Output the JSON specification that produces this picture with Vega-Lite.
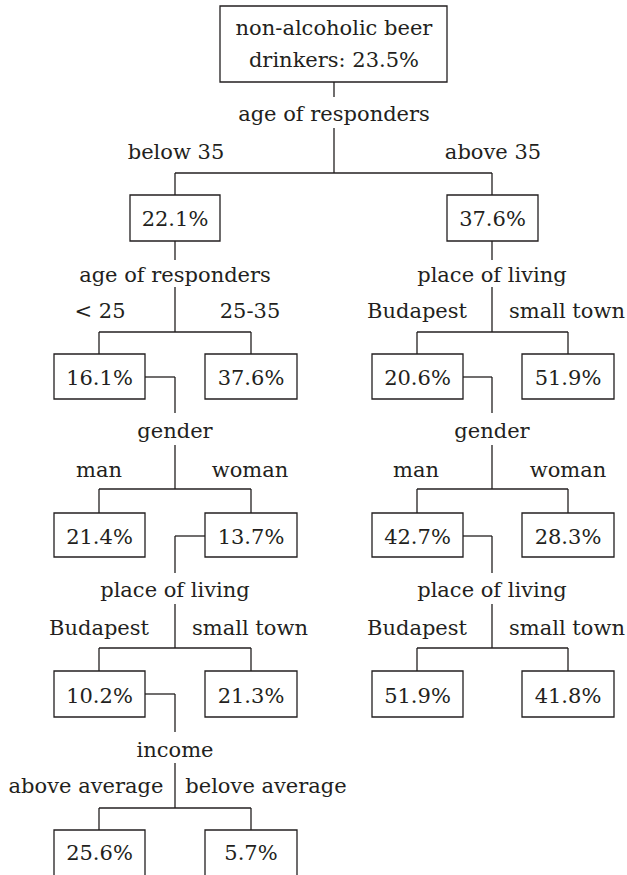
{
  "$schema": "https://vega.github.io/schema/vega-lite/v6.json",
  "width": 627,
  "height": 875,
  "autosize": "none",
  "padding": 0,
  "background": "white",
  "config": {"view": {"stroke": null}},
  "datasets": {
    "boxes": [
      {"id": "root", "x1": 220, "x2": 447, "y1": 6, "y2": 82},
      {"id": "b35", "x1": 130, "x2": 220, "y1": 195, "y2": 241},
      {"id": "a35", "x1": 447, "x2": 538, "y1": 195, "y2": 241},
      {"id": "lt25", "x1": 54, "x2": 145, "y1": 354, "y2": 399},
      {"id": "2535", "x1": 205, "x2": 297, "y1": 354, "y2": 399},
      {"id": "bp", "x1": 372, "x2": 463, "y1": 354, "y2": 399},
      {"id": "st", "x1": 522, "x2": 614, "y1": 354, "y2": 399},
      {"id": "m1", "x1": 54, "x2": 145, "y1": 513, "y2": 557},
      {"id": "w1", "x1": 205, "x2": 297, "y1": 513, "y2": 557},
      {"id": "m2", "x1": 372, "x2": 463, "y1": 513, "y2": 557},
      {"id": "w2", "x1": 522, "x2": 614, "y1": 513, "y2": 557},
      {"id": "bp1", "x1": 54, "x2": 145, "y1": 671, "y2": 717},
      {"id": "st1", "x1": 205, "x2": 297, "y1": 671, "y2": 717},
      {"id": "bp2", "x1": 372, "x2": 463, "y1": 671, "y2": 717},
      {"id": "st2", "x1": 522, "x2": 614, "y1": 671, "y2": 717},
      {"id": "aa", "x1": 54, "x2": 145, "y1": 830, "y2": 885},
      {"id": "ba", "x1": 205, "x2": 297, "y1": 830, "y2": 885}
    ],
    "segments": [
      {"x1": 334, "y1": 82, "x2": 334, "y2": 97},
      {"x1": 334, "y1": 128, "x2": 334, "y2": 173},
      {"x1": 175, "y1": 173, "x2": 492, "y2": 173},
      {"x1": 175, "y1": 173, "x2": 175, "y2": 195},
      {"x1": 492, "y1": 173, "x2": 492, "y2": 195},
      {"x1": 175, "y1": 241, "x2": 175, "y2": 260},
      {"x1": 175, "y1": 287, "x2": 175, "y2": 332},
      {"x1": 99, "y1": 332, "x2": 251, "y2": 332},
      {"x1": 99, "y1": 332, "x2": 99, "y2": 354},
      {"x1": 251, "y1": 332, "x2": 251, "y2": 354},
      {"x1": 492, "y1": 241, "x2": 492, "y2": 260},
      {"x1": 492, "y1": 287, "x2": 492, "y2": 332},
      {"x1": 417, "y1": 332, "x2": 568, "y2": 332},
      {"x1": 417, "y1": 332, "x2": 417, "y2": 354},
      {"x1": 568, "y1": 332, "x2": 568, "y2": 354},
      {"x1": 145, "y1": 377, "x2": 175, "y2": 377},
      {"x1": 175, "y1": 377, "x2": 175, "y2": 413},
      {"x1": 175, "y1": 445, "x2": 175, "y2": 489},
      {"x1": 99, "y1": 489, "x2": 251, "y2": 489},
      {"x1": 99, "y1": 489, "x2": 99, "y2": 513},
      {"x1": 251, "y1": 489, "x2": 251, "y2": 513},
      {"x1": 463, "y1": 377, "x2": 492, "y2": 377},
      {"x1": 492, "y1": 377, "x2": 492, "y2": 413},
      {"x1": 492, "y1": 445, "x2": 492, "y2": 489},
      {"x1": 417, "y1": 489, "x2": 568, "y2": 489},
      {"x1": 417, "y1": 489, "x2": 417, "y2": 513},
      {"x1": 568, "y1": 489, "x2": 568, "y2": 513},
      {"x1": 175, "y1": 536, "x2": 205, "y2": 536},
      {"x1": 175, "y1": 536, "x2": 175, "y2": 573},
      {"x1": 175, "y1": 604, "x2": 175, "y2": 648},
      {"x1": 99, "y1": 648, "x2": 251, "y2": 648},
      {"x1": 99, "y1": 648, "x2": 99, "y2": 671},
      {"x1": 251, "y1": 648, "x2": 251, "y2": 671},
      {"x1": 463, "y1": 536, "x2": 492, "y2": 536},
      {"x1": 492, "y1": 536, "x2": 492, "y2": 573},
      {"x1": 492, "y1": 604, "x2": 492, "y2": 648},
      {"x1": 417, "y1": 648, "x2": 568, "y2": 648},
      {"x1": 417, "y1": 648, "x2": 417, "y2": 671},
      {"x1": 568, "y1": 648, "x2": 568, "y2": 671},
      {"x1": 145, "y1": 694, "x2": 175, "y2": 694},
      {"x1": 175, "y1": 694, "x2": 175, "y2": 732},
      {"x1": 175, "y1": 763, "x2": 175, "y2": 808},
      {"x1": 99, "y1": 808, "x2": 251, "y2": 808},
      {"x1": 99, "y1": 808, "x2": 99, "y2": 830},
      {"x1": 251, "y1": 808, "x2": 251, "y2": 830}
    ],
    "labels": [
      {"label": "non-alcoholic beer", "x": 334, "y": 35},
      {"label": "drinkers: 23.5%", "x": 334, "y": 67},
      {"label": "age of responders", "x": 334, "y": 121},
      {"label": "below 35", "x": 176, "y": 159},
      {"label": "above 35", "x": 493, "y": 159},
      {"label": "age of responders", "x": 175, "y": 282},
      {"label": "place of living", "x": 492, "y": 282},
      {"label": "< 25", "x": 100, "y": 318},
      {"label": "25-35", "x": 250, "y": 318},
      {"label": "Budapest", "x": 417, "y": 318},
      {"label": "small town", "x": 567, "y": 318},
      {"label": "gender", "x": 175, "y": 438},
      {"label": "gender", "x": 492, "y": 438},
      {"label": "man", "x": 99, "y": 477},
      {"label": "woman", "x": 250, "y": 477},
      {"label": "man", "x": 416, "y": 477},
      {"label": "woman", "x": 568, "y": 477},
      {"label": "place of living", "x": 175, "y": 597},
      {"label": "place of living", "x": 492, "y": 597},
      {"label": "Budapest", "x": 99, "y": 635},
      {"label": "small town", "x": 250, "y": 635},
      {"label": "Budapest", "x": 417, "y": 635},
      {"label": "small town", "x": 567, "y": 635},
      {"label": "income", "x": 175, "y": 757},
      {"label": "above average", "x": 86, "y": 793},
      {"label": "belove average", "x": 266, "y": 793},
      {"label": "22.1%", "x": 175, "y": 226},
      {"label": "37.6%", "x": 492.5, "y": 226},
      {"label": "16.1%", "x": 99.5, "y": 385},
      {"label": "37.6%", "x": 251, "y": 385},
      {"label": "20.6%", "x": 417.5, "y": 385},
      {"label": "51.9%", "x": 568, "y": 385},
      {"label": "21.4%", "x": 99.5, "y": 544},
      {"label": "13.7%", "x": 251, "y": 544},
      {"label": "42.7%", "x": 417.5, "y": 544},
      {"label": "28.3%", "x": 568, "y": 544},
      {"label": "10.2%", "x": 99.5, "y": 703},
      {"label": "21.3%", "x": 251, "y": 703},
      {"label": "51.9%", "x": 417.5, "y": 703},
      {"label": "41.8%", "x": 568, "y": 703},
      {"label": "25.6%", "x": 99.5, "y": 860},
      {"label": "5.7%", "x": 251, "y": 860}
    ]
  },
  "layer": [
    {
      "data": {"name": "boxes"},
      "mark": {"type": "rect", "fill": "white", "stroke": "#231f20", "strokeWidth": 1.3, "clip": true},
      "encoding": {
        "x": {"field": "x1", "type": "quantitative", "scale": {"domain": [0, 627], "nice": false, "zero": false}, "axis": null},
        "x2": {"field": "x2"},
        "y": {"field": "y1", "type": "quantitative", "scale": {"domain": [0, 875], "nice": false, "zero": false, "reverse": true}, "axis": null},
        "y2": {"field": "y2"}
      }
    },
    {
      "data": {"name": "segments"},
      "mark": {"type": "rule", "stroke": "#231f20", "strokeWidth": 1.3},
      "encoding": {
        "x": {"field": "x1", "type": "quantitative", "scale": {"domain": [0, 627], "nice": false, "zero": false}, "axis": null},
        "x2": {"field": "x2"},
        "y": {"field": "y1", "type": "quantitative", "scale": {"domain": [0, 875], "nice": false, "zero": false, "reverse": true}, "axis": null},
        "y2": {"field": "y2"}
      }
    },
    {
      "data": {"name": "labels"},
      "mark": {"type": "text", "font": "DejaVu Serif", "fontSize": 21, "fill": "#231f20", "align": "center", "baseline": "alphabetic"},
      "encoding": {
        "x": {"field": "x", "type": "quantitative", "scale": {"domain": [0, 627], "nice": false, "zero": false}, "axis": null},
        "y": {"field": "y", "type": "quantitative", "scale": {"domain": [0, 875], "nice": false, "zero": false, "reverse": true}, "axis": null},
        "text": {"field": "label"}
      }
    }
  ]
}
